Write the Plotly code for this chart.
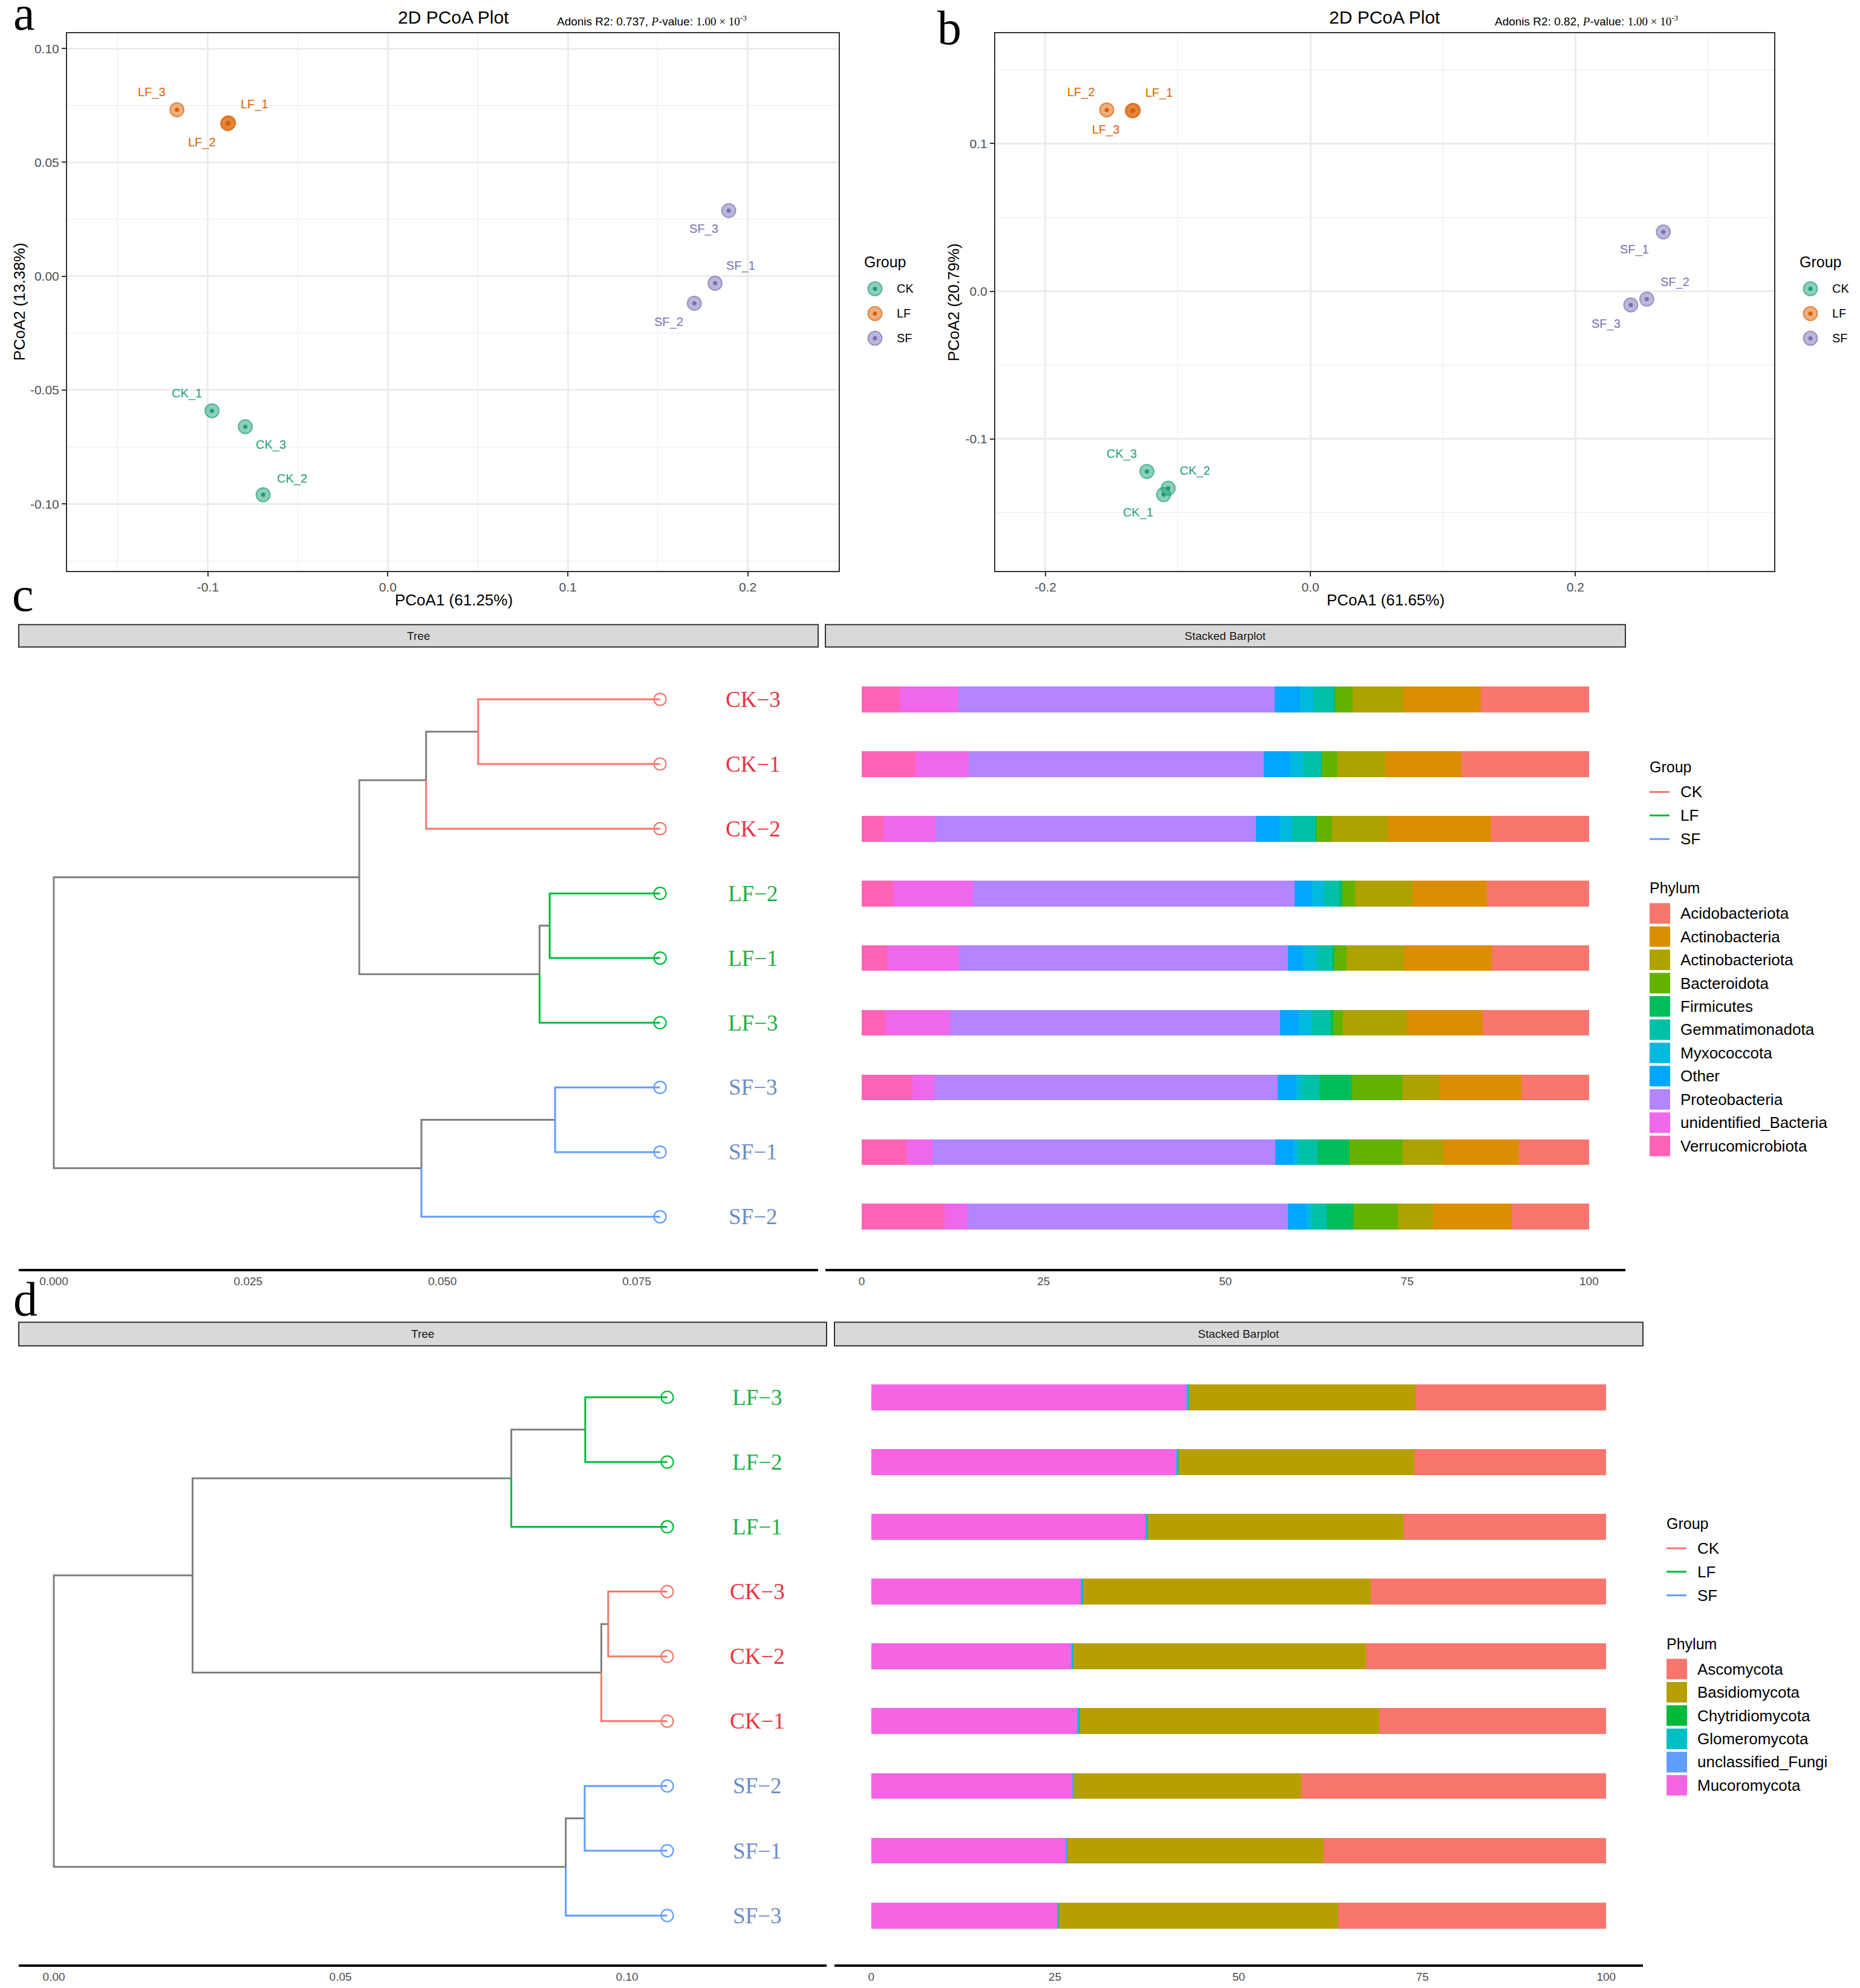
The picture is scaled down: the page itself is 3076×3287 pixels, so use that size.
import plotly.graph_objects as go

W, H = 3076, 3287
OFF = 8  # the page body adds an 8px margin around the plot div
PW, PH = W - 2 * OFF, H - 2 * OFF
SANS = "Liberation Sans, Arial, sans-serif"
SERIF = "Liberation Serif, Times New Roman, serif"

# ---------------- data: PCoA (panels a, b) ----------------
pcoa_samples = ["CK_1", "CK_2", "CK_3", "LF_1", "LF_2", "LF_3", "SF_1", "SF_2", "SF_3"]
pcoa_groups = ["CK", "CK", "CK", "LF", "LF", "LF", "SF", "SF", "SF"]
a_pc1 = [-0.0977, -0.0693, -0.0792, -0.0885, -0.0890, -0.1172, 0.1818, 0.1703, 0.1894]
a_pc2 = [-0.0591, -0.0960, -0.0661, 0.0674, 0.0670, 0.0731, -0.0031, -0.0119, 0.0288]
b_pc1 = [-0.1108, -0.1073, -0.1234, -0.1336, -0.1537, -0.1345, 0.2664, 0.2539, 0.2418]
b_pc2 = [-0.1377, -0.1334, -0.1220, 0.1225, 0.1228, 0.1222, 0.0402, -0.0053, -0.0093]

a_xticks = [-0.1, 0.0, 0.1, 0.2]
a_xtick_text = ["-0.1", "0.0", "0.1", "0.2"]
a_yticks = [-0.10, -0.05, 0.0, 0.05, 0.10]
a_ytick_text = ["-0.10", "-0.05", "0.00", "0.05", "0.10"]
b_xticks = [-0.2, 0.0, 0.2]
b_xtick_text = ["-0.2", "0.0", "0.2"]
b_yticks = [-0.1, 0.0, 0.1]
b_ytick_text = ["-0.1", "0.0", "0.1"]

# ---------------- data: bacteria tree + barplot (panel c) ----------------
c_tips = ["CK-3", "CK-1", "CK-2", "LF-2", "LF-1", "LF-3", "SF-3", "SF-1", "SF-2"]
c_tip_dist = 0.0780
c_nodes = ["n1", "n2", "n3", "n4", "n5", "n6", "n7", "root"]
c_children = [("CK-3", "CK-1"), ("n1", "CK-2"), ("LF-2", "LF-1"), ("n3", "LF-3"),
              ("n2", "n4"), ("SF-3", "SF-1"), ("n6", "SF-2"), ("n5", "n7")]
c_node_dist = [0.0546, 0.0479, 0.0638, 0.0625, 0.0393, 0.0645, 0.0473, 0.0]

c_phyla = ["Verrucomicrobiota", "unidentified_Bacteria", "Proteobacteria", "Other",
           "Myxococcota", "Gemmatimonadota", "Firmicutes", "Bacteroidota",
           "Actinobacteriota", "Actinobacteria", "Acidobacteriota"]
c_verrucomicrobiota = [5.2, 7.5, 3.0, 4.3, 3.5, 3.2, 7.0, 6.1, 11.4]
c_unidentified = [8.0, 7.2, 7.2, 11.0, 9.9, 8.9, 3.0, 3.6, 3.1]
c_proteobacteria = [43.6, 40.6, 44.0, 44.2, 45.2, 45.4, 47.2, 47.2, 44.1]
c_other = [3.5, 3.6, 3.2, 2.4, 2.1, 2.5, 2.5, 2.5, 2.6]
c_myxococcota = [1.8, 1.8, 1.8, 1.7, 1.9, 1.9, 0.7, 0.6, 0.6]
c_gemmatimonadota = [2.9, 2.5, 3.2, 2.1, 2.1, 2.5, 2.5, 2.7, 2.1]
c_firmicutes = [0.1, 0.1, 0.1, 0.4, 0.3, 0.4, 4.4, 4.3, 3.7]
c_bacteroidota = [2.4, 2.1, 2.2, 1.7, 1.7, 1.4, 7.0, 7.4, 6.1]
c_actinobacteriota = [7.0, 6.6, 7.6, 7.9, 7.9, 8.7, 5.2, 5.6, 4.9]
c_actinobacteria = [10.6, 10.5, 14.2, 10.3, 12.0, 10.5, 11.2, 10.4, 10.8]
c_acidobacteriota = [14.9, 17.5, 13.5, 14.0, 13.4, 14.6, 9.3, 9.6, 10.6]
c_colors = ["#FF63B6", "#EF67EB", "#B385FF", "#00A6FF", "#00BADE", "#00C1A7",
            "#00BD5C", "#64B200", "#AEA200", "#DB8E00", "#F8766D"]
c_xticks = [0.0, 0.025, 0.05, 0.075]
c_xtick_text = ["0.000", "0.025", "0.050", "0.075"]

# ---------------- data: fungi tree + barplot (panel d) ----------------
d_tips = ["LF-3", "LF-2", "LF-1", "CK-3", "CK-2", "CK-1", "SF-2", "SF-1", "SF-3"]
d_tip_dist = 0.1070
d_nodes = ["m1", "m2", "m3", "m4", "m5", "m6", "m7", "root"]
d_children = [("LF-3", "LF-2"), ("m1", "LF-1"), ("CK-3", "CK-2"), ("m3", "CK-1"),
              ("m2", "m4"), ("SF-2", "SF-1"), ("m6", "SF-3"), ("m5", "m7")]
d_node_dist = [0.0927, 0.0798, 0.0967, 0.0955, 0.0242, 0.0926, 0.0893, 0.0]

d_phyla = ["Mucoromycota", "unclassified_Fungi", "Glomeromycota", "Chytridiomycota",
           "Basidiomycota", "Ascomycota"]
d_mucoromycota = [42.9, 41.5, 37.3, 28.5, 27.2, 28.0, 27.4, 26.5, 25.3]
d_unclassified = [0.2, 0.1, 0.1, 0.1, 0.1, 0.1, 0.1, 0.1, 0.1]
d_glomeromycota = [0.1, 0.2, 0.2, 0.2, 0.2, 0.3, 0.1, 0.1, 0.1]
d_chytridiomycota = [0.0, 0.0, 0.0, 0.0, 0.0, 0.0, 0.0, 0.0, 0.0]
d_basidiomycota = [30.9, 32.1, 34.8, 39.2, 39.8, 40.7, 30.9, 34.9, 38.0]
d_ascomycota = [25.9, 26.1, 27.6, 32.0, 32.7, 30.9, 41.5, 38.4, 36.5]
d_colors = ["#F564E3", "#619CFF", "#00BFC4", "#00BA38", "#B79F00", "#F8766D"]
d_xticks = [0.0, 0.05, 0.10]
d_xtick_text = ["0.00", "0.05", "0.10"]

bar_ticks = [0, 25, 50, 75, 100]

# ---------------- styles ----------------
pcoa_colors = {"CK": (27, 158, 119), "LF": (217, 95, 2), "SF": (117, 112, 179)}
tree_colors = {"CK": "#F8766D", "LF": "#00BA38", "SF": "#619CFF"}
label_colors = {"CK": "#E8333F", "LF": "#1FAF3F", "SF": "#6A8CC6"}
GRAY_EDGE = "#7F7F7F"

# label offsets in pixels (ggrepel placement)
a_shift = {"CK_1": (-42, 29), "CK_2": (48, 27), "CK_3": (42, -30),
           "LF_1": (43, 30), "LF_2": (-43, -31), "LF_3": (-42, 29),
           "SF_1": (42, 29), "SF_2": (-42, -31), "SF_3": (-41, -30)}
b_shift = {"CK_1": (-42, -30), "CK_2": (44, 29), "CK_3": (-42, 29),
           "LF_1": (43, 29), "LF_2": (-42, 29), "LF_3": (-43, -31),
           "SF_1": (-48, -29), "SF_2": (47, 28), "SF_3": (-41, -31)}


def fx(x):
    return (x - OFF) / PW


def fy(y):
    return 1 - (y - OFF) / PH


def rgba(c, a):
    return "rgba(%d,%d,%d,%.2f)" % (c[0], c[1], c[2], a)


fig = go.Figure()
annotations = []
shapes = []

# ---------------- PCoA panels ----------------
for ax, pc1, pc2, shift in [("", a_pc1, a_pc2, a_shift), ("2", b_pc1, b_pc2, b_shift)]:
    for g in ["CK", "LF", "SF"]:
        idx = [i for i, gg in enumerate(pcoa_groups) if gg == g]
        xs = [pc1[i] for i in idx]
        ys = [pc2[i] for i in idx]
        col = pcoa_colors[g]
        fig.add_trace(go.Scatter(
            x=xs, y=ys, mode="markers", xaxis="x" + ax, yaxis="y" + ax,
            marker=dict(size=23, color=rgba(col, 0.5),
                        line=dict(width=2, color=rgba(col, 0.65))),
            hoverinfo="skip"))
        fig.add_trace(go.Scatter(
            x=xs, y=ys, mode="markers", xaxis="x" + ax, yaxis="y" + ax,
            marker=dict(size=7, color=rgba(col, 1.0)),
            text=[pcoa_samples[i] for i in idx], hoverinfo="text"))
    for i, s in enumerate(pcoa_samples):
        dx, dy = shift[s]
        annotations.append(dict(
            x=pc1[i], y=pc2[i], xref="x" + ax, yref="y" + ax, text=s,
            showarrow=False, xshift=dx, yshift=dy,
            font=dict(family=SANS, size=20, color=rgba(pcoa_colors[pcoa_groups[i]], 1.0))))


# ---------------- trees ----------------
def add_tree(ax, tips, tip_dist, nodes, children, dists, label_shift):
    pos = {t: (tip_dist, i + 1) for i, t in enumerate(tips)}
    for n, ch, d in zip(nodes, children, dists):
        pos[n] = (d, sum(pos[c][1] for c in ch) / len(ch))
    segs = {"gray": ([], []), "CK": ([], []), "LF": ([], []), "SF": ([], [])}
    for n, ch in zip(nodes, children):
        px_, py_ = pos[n]
        for c in ch:
            cx, cy = pos[c]
            key = c[:2] if c in tips else "gray"
            segs[key][0].extend([px_, px_, cx, None])
            segs[key][1].extend([py_, cy, cy, None])
    for key, (xs, ys) in segs.items():
        col = GRAY_EDGE if key == "gray" else tree_colors[key]
        fig.add_trace(go.Scatter(x=xs, y=ys, mode="lines", xaxis="x" + ax, yaxis="y" + ax,
                                 line=dict(color=col, width=3), hoverinfo="skip"))
    for g in ["CK", "LF", "SF"]:
        tt = [t for t in tips if t.startswith(g)]
        fig.add_trace(go.Scatter(
            x=[pos[t][0] for t in tt], y=[pos[t][1] for t in tt], mode="markers",
            xaxis="x" + ax, yaxis="y" + ax, text=tt, hoverinfo="text",
            marker=dict(symbol="circle-open", size=20, color=tree_colors[g],
                        line=dict(width=2.2, color=tree_colors[g]))))
    for t in tips:
        annotations.append(dict(
            x=pos[t][0], y=pos[t][1], xref="x" + ax, yref="y" + ax, text=t.replace("-", "\u2212"),
            showarrow=False, xshift=label_shift, xanchor="center",
            font=dict(family=SERIF, size=37, color=label_colors[t[:2]])))


add_tree("3", c_tips, c_tip_dist, c_nodes, c_children, c_node_dist, 154)
add_tree("5", d_tips, d_tip_dist, d_nodes, d_children, d_node_dist, 149)

# ---------------- stacked bars ----------------
c_values = [c_verrucomicrobiota, c_unidentified, c_proteobacteria, c_other, c_myxococcota,
            c_gemmatimonadota, c_firmicutes, c_bacteroidota, c_actinobacteriota,
            c_actinobacteria, c_acidobacteriota]
d_values = [d_mucoromycota, d_unclassified, d_glomeromycota, d_chytridiomycota,
            d_basidiomycota, d_ascomycota]

for ax, tips, phyla, values, colors in [("4", c_tips, c_phyla, c_values, c_colors),
                                        ("6", d_tips, d_phyla, d_values, d_colors)]:
    ypos = list(range(1, len(tips) + 1))
    for name, vals, col in zip(phyla, values, colors):
        fig.add_trace(go.Bar(
            x=vals, y=ypos, orientation="h", width=0.4, name=name,
            xaxis="x" + ax, yaxis="y" + ax, marker=dict(color=col, line=dict(width=0)),
            customdata=tips, hovertemplate="%{customdata}: %{x}<extra>" + name + "</extra>"))

# ---------------- axes ----------------
tick_font_pcoa = dict(family=SANS, size=21, color="#4D4D4D")
tick_font_small = dict(family=SANS, size=19, color="#4D4D4D")


def pcoa_axis(domain, rng, tv, tt, minor_dtick, anchor):
    return dict(domain=domain, range=rng, anchor=anchor, tickmode="array",
                tickvals=tv, ticktext=tt, showgrid=True, gridcolor="#EBEBEB", gridwidth=2.5,
                minor=dict(dtick=minor_dtick, tick0=0, showgrid=True,
                           gridcolor="#EBEBEB", gridwidth=1.2, ticks=""),
                zeroline=False, showline=True, mirror=True, linecolor="#333333",
                linewidth=2, ticks="outside", ticklen=7, tickwidth=2, tickcolor="#333333",
                tickfont=tick_font_pcoa)


def bottom_axis(domain, rng, tv, tt, anchor):
    return dict(domain=domain, range=rng, anchor=anchor, tickmode="array",
                tickvals=tv, ticktext=tt, showgrid=False, zeroline=False,
                showline=True, linecolor="black", linewidth=3.5, ticks="",
                tickfont=tick_font_small)


def hidden_y(domain, rng, anchor):
    return dict(domain=domain, range=rng, anchor=anchor, visible=False,
                showgrid=False, zeroline=False)


ydom_ab = [fy(945), fy(55)]
ydom_c = [fy(2101), fy(1071)]
ydom_d = [fy(3252), fy(2228)]

layout_axes = dict(
    xaxis=pcoa_axis([fx(111), fx(1387)], [-0.1782, 0.2505], a_xticks, a_xtick_text, 0.05, "y"),
    yaxis=pcoa_axis(ydom_ab, [-0.1294, 0.1067], a_yticks, a_ytick_text, 0.025, "x"),
    xaxis2=pcoa_axis([fx(1646), fx(2934)], [-0.2378, 0.350], b_xticks, b_xtick_text, 0.1, "y2"),
    yaxis2=pcoa_axis(ydom_ab, [-0.1893, 0.1747], b_yticks, b_ytick_text, 0.05, "x2"),
    xaxis3=bottom_axis([fx(31), fx(1353)], [-0.00451, 0.09834], c_xticks, c_xtick_text, "y3"),
    yaxis3=hidden_y(ydom_c, [9.81, 0.19], "x3"),
    xaxis4=bottom_axis([fx(1365), fx(2688)], [-5, 105], bar_ticks, [str(v) for v in bar_ticks], "y4"),
    yaxis4=hidden_y(ydom_c, [9.81, 0.19], "x4"),
    xaxis5=bottom_axis([fx(31), fx(1367)], [-0.00612, 0.1348], d_xticks, d_xtick_text, "y5"),
    yaxis5=hidden_y(ydom_d, [9.755, 0.207], "x5"),
    xaxis6=bottom_axis([fx(1380), fx(2717)], [-5, 105], bar_ticks, [str(v) for v in bar_ticks], "y6"),
    yaxis6=hidden_y(ydom_d, [9.755, 0.207], "x6"),
)


def paper_text(x, y, text, size, family=SANS, color="black", xanchor="center", angle=0,
               yanchor="middle"):
    annotations.append(dict(x=fx(x), y=fy(y), xref="paper", yref="paper", text=text,
                            showarrow=False, xanchor=xanchor, yanchor=yanchor,
                            textangle=angle, font=dict(family=family, size=size, color=color)))


# panel letters (placed by their bottom edge)
paper_text(20, 68, "a", 80, SERIF, xanchor="left", yanchor="bottom")
paper_text(1548, 92, "b", 80, SERIF, xanchor="left", yanchor="bottom")
paper_text(18, 1030, "c", 80, SERIF, xanchor="left", yanchor="bottom")
paper_text(20, 2197, "d", 80, SERIF, xanchor="left", yanchor="bottom")

# PCoA titles
serif_span = '<span style="font-family:Liberation Serif">%s</span>'
paper_text(750, 29, "2D PCoA Plot", 30)
paper_text(919, 34, "Adonis R2: 0.737, " + serif_span % "<i>P</i>" + "-value: "
           + serif_span % "1.00 × 10<sup>-3</sup>", 19, xanchor="left")
paper_text(2290, 29, "2D PCoA Plot", 30)
paper_text(2470, 34, "Adonis R2: 0.82, " + serif_span % "<i>P</i>" + "-value: "
           + serif_span % "1.00 × 10<sup>-3</sup>", 19, xanchor="left")
paper_text(750, 993, "PCoA1 (61.25%)", 26)
paper_text(2291, 993, "PCoA1 (61.65%)", 26)
paper_text(32, 500, "PCoA2 (13.38%)", 26, angle=-90)
paper_text(1577, 500, "PCoA2 (20.79%)", 26, angle=-90)

# PCoA legends
for lx in [1427, 2974]:
    paper_text(lx, 434, "Group", 25, xanchor="left")
    for k, g in enumerate(["CK", "LF", "SF"]):
        cy = 478 + 41 * k
        col = pcoa_colors[g]
        for r, fill, line in [(11.5, rgba(col, 0.5), rgba(col, 0.65)), (3.5, rgba(col, 1), rgba(col, 1))]:
            shapes.append(dict(type="circle", xref="paper", yref="paper",
                               xsizemode="pixel", ysizemode="pixel",
                               xanchor=fx(lx + 20), yanchor=fy(cy),
                               x0=-r, x1=r, y0=-r, y1=r, fillcolor=fill,
                               line=dict(color=line, width=2 if r > 5 else 0)))
        paper_text(lx + 54, cy, g, 20, xanchor="left")

# strips
for x0, x1, y0, y1, label in [(31, 1353, 1034, 1071, "Tree"),
                              (1365, 2688, 1034, 1071, "Stacked Barplot"),
                              (31, 1367, 2189, 2228, "Tree"),
                              (1380, 2717, 2189, 2228, "Stacked Barplot")]:
    shapes.append(dict(type="rect", xref="paper", yref="paper", x0=fx(x0), x1=fx(x1),
                       y0=fy(y1), y1=fy(y0), fillcolor="#D9D9D9",
                       line=dict(color="#333333", width=2)))
    paper_text((x0 + x1) / 2, (y0 + y1) / 2, label, 19, color="#1A1A1A")

# tree / barplot legends
for lx, gy, py0, phyla, colors in [(2726, 1270, 1470, c_phyla, c_colors),
                                   (2754, 2522, 2721, d_phyla, d_colors)]:
    paper_text(lx, gy, "Group", 25, xanchor="left")
    for k, g in enumerate(["CK", "LF", "SF"]):
        cy = gy + 41 + 39 * k
        shapes.append(dict(type="line", xref="paper", yref="paper",
                           x0=fx(lx + 2), x1=fx(lx + 35), y0=fy(cy), y1=fy(cy),
                           line=dict(color=tree_colors[g], width=3)))
        paper_text(lx + 51, cy, g, 26, xanchor="left")
    paper_text(lx, py0, "Phylum", 25, xanchor="left")
    legend_order = list(reversed(list(zip(phyla, colors))))
    for k, (name, col) in enumerate(legend_order):
        cy = py0 + 42 + 38.5 * k
        shapes.append(dict(type="rect", xref="paper", yref="paper",
                           x0=fx(lx + 2), x1=fx(lx + 36), y0=fy(cy + 17), y1=fy(cy - 17),
                           fillcolor=col, line=dict(width=0)))
        paper_text(lx + 51, cy, name, 26, xanchor="left")

fig.update_layout(
    width=PW, height=PH, autosize=False,
    margin=dict(l=0, r=0, t=0, b=0, pad=0),
    paper_bgcolor="white", plot_bgcolor="white",
    showlegend=False, barmode="stack",
    font=dict(family=SANS),
    annotations=annotations, shapes=shapes,
    **layout_axes)

fig.write_html("out.html")
